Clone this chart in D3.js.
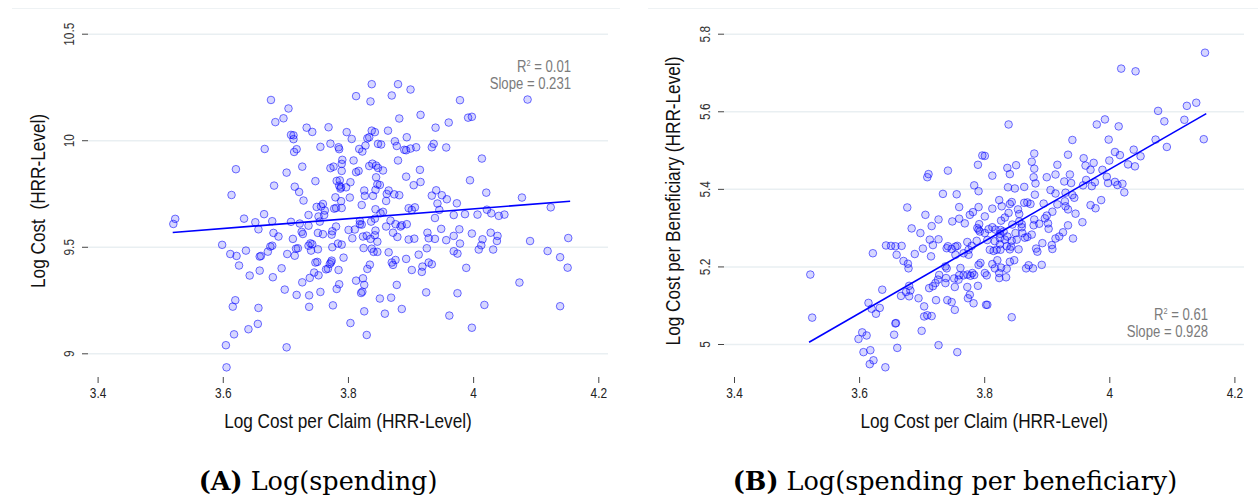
<!DOCTYPE html>
<html>
<head>
<meta charset="utf-8">
<script src="https://cdn.jsdelivr.net/npm/d3@7"></script>
<style>
  html, body { margin: 0; padding: 0; background: #fff; }
  svg { display: block; }
</style>
</head>
<body>
<script>
// log cost per claim (x) vs log cost (y), one point per HRR
var spendingPoints = [
  [3.838,10.263],[3.813,10.207],[3.836,10.182],[3.677,10.189],[3.705,10.149],[3.684,10.085],[3.697,10.103],[3.734,10.059],[3.743,10.039],[3.769,10.061],
  [3.798,10.038],[3.806,10.006],[3.709,10.025],[3.713,10.023],[3.713,10.005],[3.838,10.045],[3.843,10.038],[3.834,10.014],[3.831,10.009],[3.848,9.983],
  [3.667,9.959],[3.718,9.958],[3.714,9.945],[3.756,9.969],[3.772,9.984],[3.785,9.967],[3.786,9.958],[3.818,9.959],[3.823,9.947],[3.828,9.975],
  [3.621,9.864],[3.702,9.848],[3.727,9.876],[3.772,9.869],[3.777,9.876],[3.791,9.908],[3.790,9.889],[3.790,9.856],[3.809,9.905],[3.813,9.850],
  [3.817,9.856],[3.834,9.879],[3.839,9.890],[3.845,9.881],[3.848,9.870],[3.682,9.787],[3.715,9.782],[3.722,9.757],[3.729,9.717],[3.748,9.808],
  [3.782,9.809],[3.787,9.812],[3.786,9.787],[3.789,9.779],[3.788,9.773],[3.797,9.779],[3.804,9.803],[3.780,9.732],[3.803,9.731],[3.826,9.764],
  [3.827,9.739],[3.840,9.739],[3.844,9.767],[3.845,9.826],[3.847,9.793],[3.614,9.743],[3.822,9.696],[3.789,9.714],[3.790,9.682],[3.778,9.679],
  [3.781,9.682],[3.760,9.701],[3.757,9.689],[3.750,9.687],[3.763,9.670],[3.737,9.649],[3.762,9.649],[3.753,9.642],[3.755,9.618],[3.844,9.676],
  [3.843,9.632],[3.837,9.618],[3.819,9.621],[3.819,9.606],[3.822,9.604],[3.666,9.653],[3.634,9.632],[3.652,9.615],[3.657,9.582],[3.679,9.620],
  [3.709,9.617],[3.723,9.609],[3.737,9.599],[3.781,9.595],[3.775,9.573],[3.774,9.557],[3.801,9.579],[3.811,9.581],[3.844,9.576],[3.843,9.554],
  [3.830,9.552],[3.824,9.548],[3.807,9.540],[3.847,9.524],[3.836,9.537],[3.752,9.565],[3.760,9.559],[3.726,9.570],[3.728,9.560],[3.712,9.537],
  [3.681,9.565],[3.689,9.548],[3.599,9.509],[3.612,9.466],[3.622,9.457],[3.637,9.482],[3.626,9.412],[3.643,9.365],[3.659,9.388],[3.659,9.454],
  [3.661,9.457],[3.672,9.477],[3.676,9.501],[3.679,9.505],[3.703,9.466],[3.715,9.458],[3.717,9.491],[3.720,9.493],[3.737,9.505],[3.740,9.516],
  [3.743,9.512],[3.741,9.482],[3.752,9.488],[3.775,9.498],[3.784,9.515],[3.790,9.510],[3.825,9.494],[3.838,9.491],[3.841,9.476],[3.847,9.476],
  [3.793,9.449],[3.774,9.435],[3.773,9.427],[3.771,9.419],[3.765,9.394],[3.768,9.397],[3.785,9.391],[3.751,9.429],[3.748,9.426],[3.746,9.379],
  [3.739,9.354],[3.753,9.366],[3.727,9.333],[3.694,9.399],[3.680,9.357],[3.824,9.352],[3.831,9.396],[3.835,9.416],[3.813,9.341],[3.826,9.321],
  [3.823,9.289],[3.821,9.283],[3.786,9.324],[3.782,9.302],[3.756,9.288],[3.738,9.272],[3.718,9.274],[3.699,9.299],[3.620,9.249],[3.616,9.219],
  [3.657,9.213],[3.738,9.218],[3.776,9.225],[3.826,9.197],[3.804,9.142],[3.830,9.086],[3.656,9.138],[3.641,9.113],[3.618,9.089],[3.605,9.038],
  [3.702,9.028],[3.606,8.934],[3.521,9.607],[3.524,9.631],
  [3.880,10.263],[3.870,10.210],[3.900,10.238],[3.979,10.188],[4.087,10.191],[3.916,10.119],[3.882,10.102],[3.864,10.045],[3.940,10.059],[3.961,10.083],
  [3.992,10.106],[3.998,10.110],[3.875,9.995],[3.878,9.973],[3.894,10.014],[3.890,9.955],[3.893,9.953],[3.900,9.961],[3.909,9.967],[3.934,9.967],
  [3.937,9.983],[3.957,9.966],[3.853,9.980],[4.014,9.914],[3.880,9.905],[3.856,9.858],[3.915,9.861],[3.893,9.829],[3.905,9.789],[3.916,9.804],
  [3.995,9.812],[3.865,9.764],[3.862,9.748],[3.874,9.746],[3.882,9.742],[3.861,9.715],[3.851,9.790],[3.941,9.765],[3.934,9.740],[3.950,9.742],
  [3.958,9.723],[3.943,9.703],[3.974,9.704],[4.021,9.754],[4.078,9.731],[4.124,9.685],[3.946,9.673],[3.897,9.681],[3.902,9.673],[3.907,9.685],
  [3.856,9.664],[3.852,9.657],[3.939,9.635],[3.969,9.649],[3.987,9.653],[4.007,9.651],[4.022,9.674],[4.029,9.657],[4.041,9.645],[4.050,9.651],
  [3.868,9.623],[3.876,9.606],[3.886,9.601],[3.884,9.595],[3.894,9.606],[3.861,9.595],[3.872,9.566],[3.879,9.546],[3.897,9.534],[3.906,9.538],
  [3.927,9.566],[3.929,9.540],[3.939,9.537],[3.949,9.584],[3.957,9.531],[3.969,9.551],[3.978,9.582],[3.979,9.515],[3.998,9.562],[4.015,9.535],
  [4.028,9.566],[4.039,9.551],[4.038,9.527],[4.013,9.507],[4.009,9.487],[3.969,9.479],[3.975,9.468],[4.032,9.487],[4.091,9.527],[4.152,9.541],
  [4.119,9.480],[4.139,9.451],[4.151,9.402],[3.865,9.474],[3.870,9.426],[3.872,9.415],[3.876,9.438],[3.893,9.443],[3.913,9.463],[3.926,9.493],
  [3.902,9.391],[3.919,9.407],[3.918,9.382],[3.929,9.426],[3.934,9.418],[3.989,9.401],[4.074,9.332],[3.878,9.321],[3.925,9.286],[3.975,9.282],
  [3.851,9.257],[3.869,9.261],[3.859,9.186],[3.886,9.208],[3.962,9.177],[4.018,9.227],[4.139,9.221],[3.998,9.120]
];

// log cost per claim (x) vs log cost per beneficiary (y)
var perBenePoints = [
  [3.522,5.179],[3.525,5.068],[3.622,5.234],[3.637,5.140],[3.615,5.106],[3.620,5.091],[3.627,5.078],[3.633,5.093],[3.605,5.030],[3.599,5.013],
  [3.612,5.022],[3.607,4.979],[3.618,4.984],[3.623,4.958],[3.617,4.948],[3.642,4.940],[3.658,5.053],[3.659,5.054],[3.656,5.024],[3.661,4.990],
  [3.700,5.034],[3.727,4.997],[3.757,4.979],[3.643,5.254],[3.651,5.253],[3.658,5.252],[3.668,5.253],[3.660,5.230],[3.671,5.214],[3.678,5.207],
  [3.679,5.195],[3.689,5.232],[3.702,5.246],[3.715,5.226],[3.713,5.269],[3.718,5.255],[3.727,5.270],[3.698,5.286],[3.684,5.298],[3.677,5.352],
  [3.706,5.333],[3.716,5.304],[3.727,5.321],[3.709,5.430],[3.711,5.438],[3.742,5.447],[3.734,5.387],[3.756,5.386],[3.760,5.353],[3.749,5.316],
  [3.760,5.323],[3.769,5.311],[3.777,5.333],[3.782,5.340],[3.784,5.409],[3.790,5.462],[3.791,5.394],[3.797,5.486],[3.791,5.353],[3.789,5.299],
  [3.791,5.295],[3.792,5.309],[3.793,5.290],[3.788,5.266],[3.780,5.253],[3.773,5.263],[3.775,5.243],[3.775,5.230],[3.767,5.234],[3.757,5.253],
  [3.754,5.251],[3.748,5.245],[3.742,5.252],[3.740,5.247],[3.754,5.230],[3.738,5.200],[3.740,5.195],[3.762,5.196],[3.767,5.177],[3.778,5.176],
  [3.784,5.178],[3.781,5.183],[3.794,5.209],[3.791,5.204],[3.801,5.183],[3.773,5.179],[3.760,5.177],[3.752,5.169],[3.753,5.147],[3.759,5.166],
  [3.739,5.170],[3.738,5.157],[3.728,5.178],[3.726,5.166],[3.722,5.157],[3.718,5.149],[3.712,5.144],[3.680,5.150],[3.682,5.138],[3.680,5.123],
  [3.667,5.124],[3.675,5.134],[3.695,5.118],[3.704,5.097],[3.704,5.071],[3.709,5.074],[3.716,5.072],[3.723,5.113],[3.741,5.113],[3.748,5.108],
  [3.753,5.088],[3.773,5.147],[3.774,5.118],[3.777,5.127],[3.783,5.105],[3.790,5.150],[3.803,5.101],
  [4.153,5.751],[4.019,5.710],[4.042,5.703],[4.139,5.622],[4.124,5.614],[4.078,5.601],[4.088,5.574],[4.120,5.578],[4.151,5.528],[4.092,5.508],
  [4.074,5.527],[3.980,5.566],[3.993,5.579],[4.015,5.561],[3.839,5.566],[3.941,5.526],[3.999,5.527],[4.039,5.501],[4.050,5.484],[4.030,5.463],
  [4.041,5.458],[4.017,5.487],[4.009,5.495],[4.000,5.473],[3.989,5.449],[3.996,5.431],[3.998,5.415],[4.009,5.418],[4.013,5.410],[4.021,5.413],
  [4.024,5.391],[3.987,5.371],[3.978,5.350],[3.970,5.358],[3.959,5.479],[3.962,5.460],[3.970,5.449],[3.975,5.467],[3.963,5.423],[3.958,5.409],
  [3.972,5.407],[3.977,5.417],[3.941,5.384],[3.929,5.368],[3.944,5.377],[3.934,5.347],[3.946,5.336],[3.957,5.314],[3.942,5.272],[3.934,5.306],
  [3.930,5.390],[3.939,5.415],[3.937,5.437],[3.928,5.419],[3.917,5.462],[3.914,5.437],[3.934,5.488],[3.914,5.388],[3.906,5.397],[3.900,5.430],
  [3.882,5.414],[3.879,5.430],[3.880,5.452],[3.876,5.470],[3.880,5.491],[3.851,5.461],[3.837,5.454],[3.841,5.438],[3.813,5.434],[3.801,5.485],
  [3.838,5.404],[3.849,5.401],[3.864,5.405],[3.881,5.385],[3.895,5.362],[3.917,5.360],[3.930,5.355],[3.909,5.341],[3.900,5.331],[3.897,5.324],
  [3.902,5.311],[3.903,5.297],[3.888,5.310],[3.880,5.321],[3.879,5.306],[3.876,5.282],[3.869,5.365],[3.874,5.361],[3.864,5.364],[3.854,5.347],
  [3.856,5.335],[3.856,5.316],[3.860,5.309],[3.860,5.301],[3.861,5.286],[3.865,5.274],[3.869,5.276],[3.852,5.269],[3.850,5.286],[3.845,5.308],
  [3.841,5.361],[3.839,5.338],[3.844,5.366],[3.833,5.326],[3.827,5.318],[3.828,5.355],[3.824,5.371],[3.813,5.349],[3.801,5.329],[3.807,5.296],
  [3.813,5.301],[3.818,5.295],[3.826,5.294],[3.831,5.290],[3.825,5.284],[3.825,5.273],[3.833,5.269],[3.837,5.277],[3.844,5.266],[3.843,5.251],
  [3.841,5.244],[3.836,5.252],[3.825,5.257],[3.826,5.243],[3.820,5.243],[3.815,5.240],[3.809,5.243],[3.805,5.268],[3.817,5.265],[3.801,5.286],
  [3.855,5.244],[3.883,5.246],[3.885,5.238],[3.893,5.260],[3.909,5.245],[3.908,5.255],[3.914,5.272],[3.920,5.277],[3.926,5.288],[3.821,5.216],
  [3.841,5.212],[3.848,5.216],[3.813,5.206],[3.817,5.195],[3.827,5.197],[3.824,5.183],[3.824,5.170],[3.835,5.172],[3.836,5.194],[3.804,5.177],
  [3.867,5.195],[3.871,5.203],[3.878,5.195],[3.892,5.204],[3.805,5.101],[3.844,5.069]
];

var xTicks = [3.4, 3.6, 3.8, 4, 4.2];
var spendingTicks = [9, 9.5, 10, 10.5];
var perBeneTicks = [5, 5.2, 5.4, 5.6, 5.8];

var slopes = [0.231, 0.928];
var intercepts = [8.754, 1.738];
var rSquared = ['0.01', '0.61'];
var fitRange = [3.52, 4.155];

var yTitles = ['Log Cost  (HRR-Level)', 'Log Cost per Beneficiary (HRR-Level)'];
var xTitle = 'Log Cost per Claim (HRR-Level)';
var captionTags = ['(A)', '(B)'];
var captionTexts = ['Log(spending)', 'Log(spending per beneficiary)'];

var W = 1258, H = 502;
// no narrow face installed, so squeeze Liberation Sans horizontally
var SANS = "'Liberation Sans', Arial, sans-serif";
var SQUEEZE = 'scale(0.82,1)';

var svg = d3.select('body').append('svg')
  .attr('width', W)
  .attr('height', H);

var panels = [
  { points: spendingPoints, ticks: spendingTicks, yDomain: [9, 10.5], yRange: [353.3, 33.7],
    xRange: [97.6, 598.3], left: 88, right: 608, frame: [12, 620],
    yLabelX: 74, yTitleX: 45, note: { x: 571, y: 72 } },
  { points: perBenePoints, ticks: perBeneTicks, yDomain: [5, 5.8], yRange: [344, 33.7],
    xRange: [734, 1234.4], left: 724, right: 1244, frame: [648, 1258],
    yLabelX: 710, yTitleX: 680, note: { x: 1208, y: 320 } }
];

var X_AXIS_Y = 377;

function squeezedText(parent, tx, ty, rotate) {
  return parent.append('g')
      .attr('transform', 'translate(' + tx + ',' + ty + ')' + (rotate ? ' rotate(' + rotate + ')' : '') + ' ' + SQUEEZE)
    .append('text')
      .style('font-family', SANS);
}

panels.forEach(function(p, i) {
  var x = d3.scaleLinear().domain([3.4, 4.2]).range(p.xRange);
  var y = d3.scaleLinear().domain(p.yDomain).range(p.yRange);
  var g = svg.append('g');

  // faint frame line on top
  g.append('line')
    .attr('x1', p.frame[0]).attr('x2', p.frame[1])
    .attr('y1', 8.5).attr('y2', 8.5)
    .attr('stroke', '#eef2f4')
    .attr('stroke-width', 1);

  // horizontal grid
  g.append('g')
    .attr('transform', 'translate(' + p.left + ',0)')
    .call(d3.axisLeft(y).tickValues(p.ticks).tickSize(-(p.right - p.left)).tickFormat(''))
    .call(function(s) {
      s.select('.domain').remove();
      s.selectAll('line').attr('stroke', '#e9eff2').attr('stroke-width', 1.5);
    });

  // y axis ticks + rotated labels
  g.append('g')
    .attr('transform', 'translate(' + p.left + ',0)')
    .call(d3.axisLeft(y).tickValues(p.ticks).tickSize(6).tickFormat(d3.format('')))
    .call(function(s) {
      s.select('.domain').remove();
      s.selectAll('line').attr('stroke', '#444');
      s.selectAll('text')
        .attr('transform', 'rotate(-90) ' + SQUEEZE)
        .attr('x', 0)
        .attr('y', -(p.left - p.yLabelX))
        .attr('dy', 0)
        .attr('text-anchor', 'middle')
        .attr('fill', '#333')
        .style('font-family', SANS)
        .style('font-size', '14.5px');
    });

  // x axis
  g.append('g')
    .attr('transform', 'translate(0,' + X_AXIS_Y + ')')
    .call(d3.axisBottom(x).tickValues(xTicks).tickSize(6).tickFormat(d3.format('')))
    .call(function(s) {
      s.select('.domain').remove();
      s.selectAll('line').attr('stroke', '#444');
      s.selectAll('text')
        .attr('transform', SQUEEZE)
        .attr('y', 21)
        .attr('dy', 0)
        .attr('fill', '#222')
        .style('font-family', SANS)
        .style('font-size', '14.5px');
    });

  // points
  g.append('g').selectAll('circle')
      .data(p.points)
    .enter().append('circle')
      .attr('cx', function(d) { return x(d[0]); })
      .attr('cy', function(d) { return y(d[1]); })
      .attr('r', 3.8)
      .attr('fill', 'rgba(0,0,255,0.16)')
      .attr('stroke', 'rgba(0,0,255,0.55)')
      .attr('stroke-width', 1);

  // fitted line
  var line = d3.line()
    .x(function(d) { return x(d); })
    .y(function(d) { return y(intercepts[i] + slopes[i] * d); });
  g.append('path')
    .datum(fitRange)
    .attr('d', line)
    .attr('fill', 'none')
    .attr('stroke', '#0000ff')
    .attr('stroke-width', 1.6);

  // R2 / slope note
  var note = squeezedText(g, p.note.x, p.note.y)
    .attr('text-anchor', 'end')
    .attr('fill', '#7b7b7b')
    .style('font-size', '16px');
  note.append('tspan').text('R');
  note.append('tspan').attr('dy', -6).style('font-size', '9px').text('2');
  note.append('tspan').attr('dy', 6).text(' = ' + rSquared[i]);
  squeezedText(g, p.note.x, p.note.y + 17)
    .attr('text-anchor', 'end')
    .attr('fill', '#7b7b7b')
    .style('font-size', '16px')
    .text('Slope = ' + slopes[i]);

  // axis titles
  squeezedText(g, p.yTitleX, 201, -90)
    .attr('text-anchor', 'middle')
    .attr('fill', '#111')
    .style('font-size', '21px')
    .style('white-space', 'pre')
    .text(yTitles[i]);

  squeezedText(g, (x(3.4) + x(4.2)) / 2, 428)
    .attr('text-anchor', 'middle')
    .attr('fill', '#111')
    .style('font-size', '21px')
    .text(xTitle);

  // caption
  var cap = g.append('text')
    .attr('x', i === 0 ? 318 : 955)
    .attr('y', 490)
    .attr('text-anchor', 'middle')
    .attr('fill', '#000')
    .style('font-family', "'DejaVu Serif', 'Liberation Serif', serif")
    .style('font-size', '25.5px');
  cap.append('tspan').style('font-weight', 'bold').text(captionTags[i]);
  cap.append('tspan').text(' ' + captionTexts[i]);
});
</script>
</body>
</html>
